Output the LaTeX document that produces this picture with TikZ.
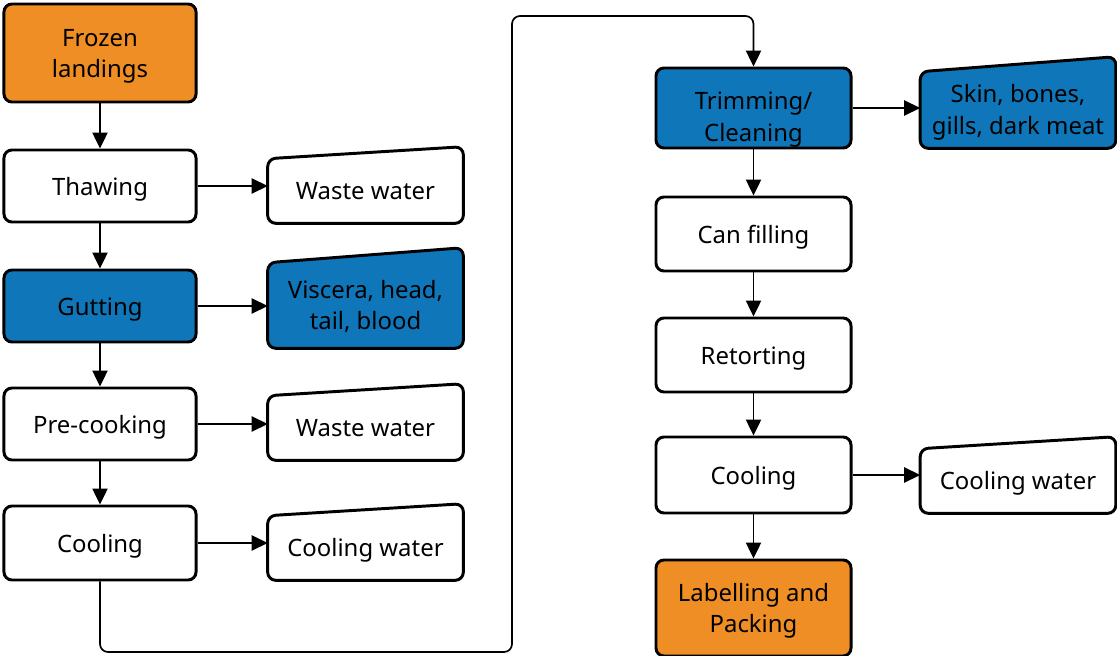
\documentclass[tikz,border=0pt]{standalone}
\usepackage{fontspec}
\setmainfont{Noto Sans}
\usetikzlibrary{arrows.meta,backgrounds}
\definecolor{fishorange}{RGB}{239,142,36}
\definecolor{fishblue}{RGB}{16,118,186}
\newcommand{\lowtext}[2]{\raisebox{-#1}[\height][\depth]{\begin{tabular}{@{}c@{}}#2\end{tabular}}}
\begin{document}
\begin{tikzpicture}[x=0.025cm, y=-0.025cm,
	stepbox/.style={draw, line width=2.1pt, rounded corners=0.2cm, align=center, font=\fontsize{17}{22.5}\selectfont, minimum width=4.8cm, minimum height=1.8cm, inner sep=0pt},
	outbox/.style={align=center, font=\fontsize{17}{22.5}\selectfont, minimum width=4.875cm, minimum height=1.6cm, inner sep=0pt},
	arr/.style={-{Triangle[length=0.4cm, width=0.38cm]}, line width=1.2pt}]
	\useasboundingbox (0,0) rectangle (1117,656);
	\node[stepbox, fill=fishorange, minimum height=2.45cm] (froz) at (100,53) {\lowtext{0.07cm}{Frozen\\landings}};
	\node[stepbox] (thaw) at (100,186) {\lowtext{0.07cm}{Thawing}};
	\node[stepbox, fill=fishblue] (gut) at (100,306) {\lowtext{0.07cm}{Gutting}};
	\node[stepbox] (precook) at (100,424) {\lowtext{0.07cm}{Pre-cooking}};
	\node[stepbox, minimum height=1.85cm] (cool) at (100,543) {\lowtext{0.07cm}{Cooling}};
	\node[outbox] (waste) at (365.5,191) {\lowtext{0.05cm}{Waste water}};
	\node[outbox, minimum height=2.125cm] (visc) at (365.5,305.5) {\lowtext{0.05cm}{Viscera, head,\\tail, blood}};
	\node[outbox] (wastetwo) at (365.5,428) {\lowtext{0.05cm}{Waste water}};
	\node[outbox] (coolw) at (365.5,548) {\lowtext{0.05cm}{Cooling water}};
	\node[stepbox, fill=fishblue, minimum width=4.875cm, minimum height=2cm] (trim) at (753.5,108) {\lowtext{0.28cm}{Trimming/\\Cleaning}};
	\node[stepbox, minimum width=4.875cm, minimum height=1.85cm] (fill) at (753.5,234) {\lowtext{0.07cm}{Can filling}};
	\node[stepbox, minimum width=4.875cm, minimum height=1.85cm] (retort) at (753.5,355) {\lowtext{0.07cm}{Retorting}};
	\node[stepbox, minimum width=4.875cm, minimum height=1.9cm] (cooltwo) at (753.5,475) {\lowtext{0.07cm}{Cooling}};
	\node[stepbox, fill=fishorange, minimum width=4.875cm, minimum height=2.4cm] (pack) at (753.5,608) {\lowtext{0.07cm}{Labelling and\\Packing}};
	\node[outbox, minimum height=1.9cm] (skin) at (1018,110) {\lowtext{0.05cm}{Skin, bones,\\gills, dark meat}};
	\node[outbox] (coolwtwo) at (1018,481) {\lowtext{0.05cm}{Cooling water}};
	\begin{scope}[on background layer]
		\foreach \n/\c/\s in {waste/white/0.3cm, visc/fishblue/0.375cm, wastetwo/white/0.3cm, coolw/white/0.3cm, skin/fishblue/0.375cm, coolwtwo/white/0.3cm}
			\draw[line width=2.1pt, rounded corners=0.2cm, fill=\c] (\n.south west) -- (\n.north west) -- ([yshift=\s]\n.north east) -- (\n.south east) -- cycle;
	\end{scope}
	\draw[arr] (froz) -- (thaw);
	\draw[arr] (thaw) -- (gut);
	\draw[arr] (gut) -- (precook);
	\draw[arr] (precook) -- (cool);
	\draw[arr] (thaw.east) -- (thaw.east -| waste.west);
	\draw[arr] (gut.east) -- (gut.east -| visc.west);
	\draw[arr] (precook.east) -- (precook.east -| wastetwo.west);
	\draw[arr] (cool.east) -- (cool.east -| coolw.west);
	\coordinate (turna) at (512,652);
	\coordinate (turnb) at (512,16);
	\draw[arr, rounded corners=0.2cm] (cool.south) |- (turna) -- (turnb) -| (trim.north);
	\draw[arr] (trim) -- (fill);
	\draw[arr] (fill) -- (retort);
	\draw[arr] (retort) -- (cooltwo);
	\draw[arr] (cooltwo) -- (pack);
	\draw[arr] (trim.east) -- (trim.east -| skin.west);
	\draw[arr] (cooltwo.east) -- (cooltwo.east -| coolwtwo.west);
\end{tikzpicture}
\end{document}
